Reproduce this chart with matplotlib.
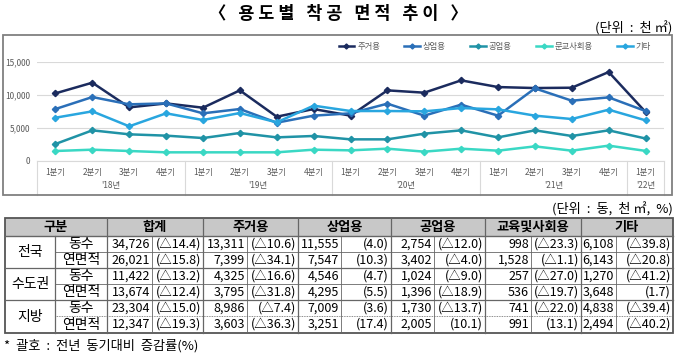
import matplotlib
matplotlib.use("Agg")
import matplotlib.pyplot as plt
from matplotlib.patches import Rectangle

plt.rcParams['font.family'] = ['Noto Sans CJK KR', 'DejaVu Sans']

# ---------------- data ----------------
quarters = ['1분기', '2분기', '3분기', '4분기'] * 4 + ['1분기']
years = ["'18년", "'19년", "'20년", "'21년", "'22년"]
year_counts = [4, 4, 4, 4, 1]

residential = [10220, 11830, 8100, 8700, 8050, 10670, 6690, 7850,
               6850, 10670, 10320, 12180, 11170, 11020, 11070, 13440, 7399]
commercial = [7850, 9660, 8560, 8700, 7200, 7850, 5790, 6850,
              7200, 8660, 6850, 8510, 6850, 10970, 9110, 9610, 7547]
industrial = [2570, 4630, 4030, 3830, 3470, 4230, 3570, 3780,
              3270, 3270, 4130, 4630, 3570, 4630, 3780, 4630, 3402]
education = [1510, 1710, 1510, 1310, 1310, 1310, 1310, 1710,
             1610, 1860, 1410, 1860, 1560, 2210, 1560, 2320, 1528]
others = [6540, 7500, 5240, 7200, 6190, 7250, 5840, 8360,
          7550, 7550, 7500, 8000, 7800, 6850, 6340, 7750, 6143]

series_names = ['주거용', '상업용', '공업용', '문교사회용', '기타']
series_vals = [residential, commercial, industrial, education, others]
series_colors = ['#1b2b5e', '#2a6fb8', '#2093a6', '#3ad8c4', '#29a6df']

yticks = [0, 5000, 10000, 15000]
ytick_labels = ['0', '5,000', '10,000', '15,000']

# table data
tbl_headers = ['구분', '합계', '주거용', '상업용', '공업용', '교육및사회용', '기타']
regions = ['전국', '수도권', '지방']
metrics = ['동수', '연면적']
total_vals = ['34,726', '26,021', '11,422', '13,674', '23,304', '12,347']
total_pct = ['△14.4', '△15.8', '△13.2', '△12.4', '△15.0', '△19.3']
res_vals = ['13,311', '7,399', '4,325', '3,795', '8,986', '3,603']
res_pct = ['△10.6', '△34.1', '△16.6', '△31.8', '△7.4', '△36.3']
com_vals = ['11,555', '7,547', '4,546', '4,295', '7,009', '3,251']
com_pct = ['4.0', '10.3', '4.7', '5.5', '3.6', '17.4']
ind_vals = ['2,754', '3,402', '1,024', '1,396', '1,730', '2,005']
ind_pct = ['△12.0', '△4.0', '△9.0', '△18.9', '△13.7', '10.1']
edu_vals = ['998', '1,528', '257', '536', '741', '991']
edu_pct = ['△23.3', '△1.1', '△27.0', '△19.7', '△22.0', '13.1']
etc_vals = ['6,108', '6,143', '1,270', '3,648', '4,838', '2,494']
etc_pct = ['△39.8', '△20.8', '△41.2', '1.7', '△39.4', '△40.2']

title = '〈   용 도 별   착 공   면 적   추 이   〉'
unit_chart = '(단위  :  천 ㎡)'
unit_table = '(단위  :  동,  천 ㎡,  %)'
footnote = '*  괄호  :  전년  동기대비  증감률(%)'

# ---------------- figure ----------------
W, H = 680, 362
fig = plt.figure(figsize=(W / 100, H / 100), dpi=100)
fig.patch.set_facecolor('white')

def fx(x):
    return x / W

def fy(y):
    return 1 - y / H

# chart axes
ax_l, ax_r, ax_b, ax_t = 37, 664, 161, 61.7
ax = fig.add_axes([fx(ax_l), fy(ax_b), (ax_r - ax_l) / W, (ax_b - ax_t) / H])
n = len(quarters)
xs = list(range(n))
for name, vals, col in zip(series_names, series_vals, series_colors):
    ax.plot(xs, vals, color=col, lw=1.8, marker='D', ms=3.2, label=name, clip_on=False, zorder=3)
ax.set_xlim(-0.5, n - 0.5)
ax.set_ylim(0, 15000)
ax.set_yticks(yticks)
ax.set_yticklabels(ytick_labels)
ax.grid(axis='y', color='#d9d9d9', lw=0.8)
ax.set_axisbelow(True)
for s in ['top', 'right', 'left']:
    ax.spines[s].set_visible(False)
ax.spines['bottom'].set_color('#d9d9d9')
ax.set_xticks(xs)
ax.set_xticklabels(quarters)
ax.tick_params(axis='both', length=0, labelsize=6, colors='#595959')
ax.tick_params(axis='x', pad=5)
ax.tick_params(axis='y', pad=5)

# year labels and separators
start = 0
bounds = [-0.5]
for yl, cnt in zip(years, year_counts):
    center = start + (cnt - 1) / 2
    ax.text(center, -0.25, yl, transform=ax.get_xaxis_transform(), ha='center', va='center',
            fontsize=6, color='#595959')
    start += cnt
    bounds.append(start - 0.5)
for b in bounds:
    ax.plot([b, b], [0, -0.34], transform=ax.get_xaxis_transform(), color='#d9d9d9', lw=0.8,
            clip_on=False)

leg = ax.legend(ncol=5, loc='center left', bbox_to_anchor=(fx(331), fy(46)),
                bbox_transform=fig.transFigure, frameon=False, fontsize=6,
                handlelength=1.9, handletextpad=0.35, columnspacing=2.9, markerscale=0.8)
for t in leg.get_texts():
    t.set_color('#595959')

# overlay axes in pixel coordinates
ov = fig.add_axes([0, 0, 1, 1])
ov.set_xlim(0, W)
ov.set_ylim(H, 0)
ov.axis('off')

ov.text(338, 14, title, ha='center', va='center', fontsize=12.5, fontweight='bold')
ov.text(672, 28, unit_chart, ha='right', va='center', fontsize=9.5)
ov.add_patch(Rectangle((3, 35), 669, 160, fill=False, ec='#808080', lw=1.3))

# table
ov.text(673, 209, unit_table, ha='right', va='center', fontsize=9.5)
cx = [5, 55, 107, 152, 203, 247, 298, 341, 391, 434, 485, 531, 581, 616, 673]
ry = [218, 236, 252, 268, 284, 300, 316, 333]
ov.add_patch(Rectangle((cx[0], ry[0]), cx[-1] - cx[0], ry[1] - ry[0], fc='#c8c8c8', ec='none'))
lc = '#666666'
# horizontal lines
ov.plot([cx[0], cx[-1]], [ry[1], ry[1]], color=lc, lw=1.0)
for r in [3, 5]:
    ov.plot([cx[0], cx[-1]], [ry[r], ry[r]], color=lc, lw=0.9)
for r in [2, 4]:
    ov.plot([cx[1], cx[-1]], [ry[r], ry[r]], color=lc, lw=0.6)
ov.plot([cx[1], cx[-1]], [ry[6], ry[6]], color=lc, lw=0.6, ls=(0, (1, 1)))
# vertical lines
for i in [2, 4, 6, 8, 10, 12]:
    ov.plot([cx[i], cx[i]], [ry[0], ry[-1]], color=lc, lw=0.9)
ov.plot([cx[1], cx[1]], [ry[1], ry[-1]], color=lc, lw=0.9)
for i in [3, 5, 7, 9, 11, 13]:
    ov.plot([cx[i], cx[i]], [ry[1], ry[-1]], color=lc, lw=0.6)
ov.add_patch(Rectangle((cx[0], ry[0]), cx[-1] - cx[0], ry[-1] - ry[0], fill=False, ec='#555555', lw=1.3))

# header text
hdr_spans = [(cx[0], cx[2])] + [(cx[i], cx[i + 2]) for i in range(2, 14, 2)]
for h, (a, b) in zip(tbl_headers, hdr_spans):
    ov.text((a + b) / 2, (ry[0] + ry[1]) / 2, h, ha='center', va='center', fontsize=9.5,
            fontweight='bold')

# row labels
for gi, reg in enumerate(regions):
    yc = (ry[1 + 2 * gi] + ry[3 + 2 * gi]) / 2
    ov.text((cx[0] + cx[1]) / 2, yc, reg, ha='center', va='center', fontsize=10)
    for mi, m in enumerate(metrics):
        r = 1 + 2 * gi + mi
        ov.text((cx[1] + cx[2]) / 2, (ry[r] + ry[r + 1]) / 2, m, ha='center', va='center',
                fontsize=10)

cols = [(total_vals, total_pct), (res_vals, res_pct), (com_vals, com_pct),
        (ind_vals, ind_pct), (edu_vals, edu_pct), (etc_vals, etc_pct)]
for ci, (vals, pcts) in enumerate(cols):
    xn = cx[3 + 2 * ci] - 2
    xp = cx[4 + 2 * ci] - 2
    for ri, (v, p) in enumerate(zip(vals, pcts)):
        yc = (ry[1 + ri] + ry[2 + ri]) / 2
        ov.text(xn, yc, v, ha='right', va='center', fontsize=9)
        ov.text(xp, yc, '(' + p + ')', ha='right', va='center', fontsize=9)

ov.text(4, 346, footnote, ha='left', va='center', fontsize=9.5)

fig.savefig('out.png', dpi=100, facecolor='white')
